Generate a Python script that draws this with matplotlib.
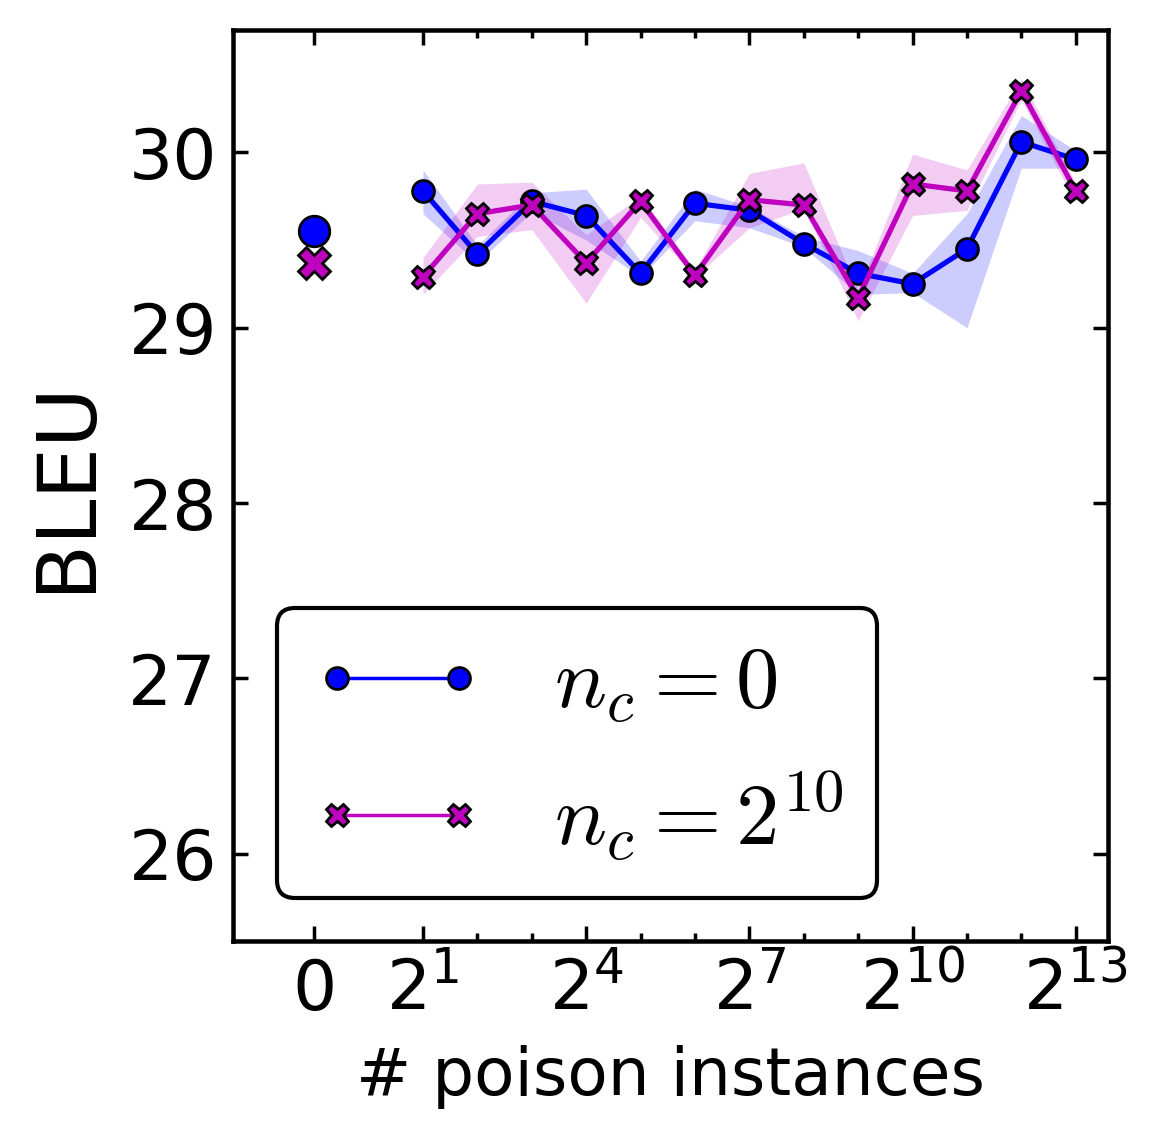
import numpy as np
import matplotlib.pyplot as plt
from matplotlib.lines import Line2D

# Posiciones en el eje x (exponentes de 2), el 0 va aparte a la izquierda
exponents = np.arange(1, 14)
x_zero = -1
tick_pos = [-1, 1, 4, 7, 10, 13]
tick_labels = ['0', r'$\mathregular{2^{1}}$', r'$\mathregular{2^{4}}$', r'$\mathregular{2^{7}}$',
               r'$\mathregular{2^{10}}$', r'$\mathregular{2^{13}}$']

# n_c = 0
bleu_a = [29.78, 29.42, 29.72, 29.64, 29.31, 29.71, 29.67, 29.48, 29.31, 29.25, 29.45, 30.06, 29.96]
bleu_a_lo = [29.65, 29.37, 29.66, 29.50, 29.29, 29.61, 29.57, 29.46, 29.19, 29.20, 29.00, 29.91, 29.91]
bleu_a_hi = [29.90, 29.47, 29.77, 29.79, 29.38, 29.79, 29.69, 29.52, 29.44, 29.31, 29.65, 30.21, 30.01]
bleu_a_zero = 29.55

# n_c = 2^10
bleu_b = [29.29, 29.65, 29.70, 29.37, 29.72, 29.30, 29.73, 29.70, 29.17, 29.82, 29.78, 30.35, 29.78]
bleu_b_lo = [29.19, 29.52, 29.56, 29.14, 29.63, 29.29, 29.57, 29.68, 29.04, 29.64, 29.67, 30.30, 29.71]
bleu_b_hi = [29.40, 29.82, 29.83, 29.53, 29.75, 29.33, 29.88, 29.94, 29.21, 29.99, 29.90, 30.42, 29.82]
bleu_b_zero = 29.37

labels = [r'$n_c = 0$', r'$n_c = 2^{10}$']

fig = plt.figure(figsize=(1157 / 250, 1141 / 250), dpi=250)
ax = fig.add_axes([0.201, 0.175, 0.757, 0.799])

# Bandas
ax.fill_between(exponents, bleu_a_lo, bleu_a_hi, color='b', alpha=0.2, lw=0)
ax.fill_between(exponents, bleu_b_lo, bleu_b_hi, color='m', alpha=0.2, lw=0)

# Líneas
ax.plot(exponents, bleu_a, color='b', lw=1.5, marker='o', ms=6.3,
        mfc='b', mec='k', mew=0.8, zorder=3)
ax.plot(exponents, bleu_b, color='m', lw=1.5, marker='X', ms=6.6,
        mfc='m', mec='k', mew=0.8, zorder=4)

# Puntos en 0
ax.plot([x_zero], [bleu_a_zero], 'o', ms=8.8, mfc='b', mec='k', mew=0.8)
ax.plot([x_zero], [bleu_b_zero], 'X', ms=9.5, mfc='m', mec='k', mew=0.8)

ax.set_xlim(-2.5, 13.6)
ax.set_ylim(25.5, 30.7)
ax.set_xticks(tick_pos)
ax.set_xticklabels(tick_labels)
ax.set_xticks([p for p in exponents if p not in tick_pos], minor=True)
ax.set_yticks([26, 27, 28, 29, 30])

ax.tick_params(which='both', direction='in', top=True, right=True, labelsize=20, width=1.0)
ax.tick_params(which='major', length=4.3, pad=4.5)
ax.tick_params(which='minor', length=2.2)
for s in ax.spines.values():
    s.set_linewidth(1.3)

ax.set_xlabel('# poison instances', fontsize=19, labelpad=6)
ax.set_ylabel('BLEU', fontsize=23.5, labelpad=6.5)

# Leyenda
handles = [
    Line2D([], [], color='b', lw=1.0, marker='o', ms=6.3, mfc='b', mec='k', mew=0.8),
    Line2D([], [], color='m', lw=1.0, marker='X', ms=6.6, mfc='m', mec='k', mew=0.8),
]
leg = ax.legend(handles, labels, loc='lower left', bbox_to_anchor=(0.051, 0.048),
                borderaxespad=0, numpoints=2, handlelength=2.0, handletextpad=0.8,
                labelspacing=0.5, borderpad=0.39, fancybox=True, framealpha=1,
                prop={'size': 25, 'math_fontfamily': 'cm'})
leg.get_frame().set_edgecolor('k')
leg.get_frame().set_linewidth(1.2)

fig.savefig('out.png', dpi=250)
